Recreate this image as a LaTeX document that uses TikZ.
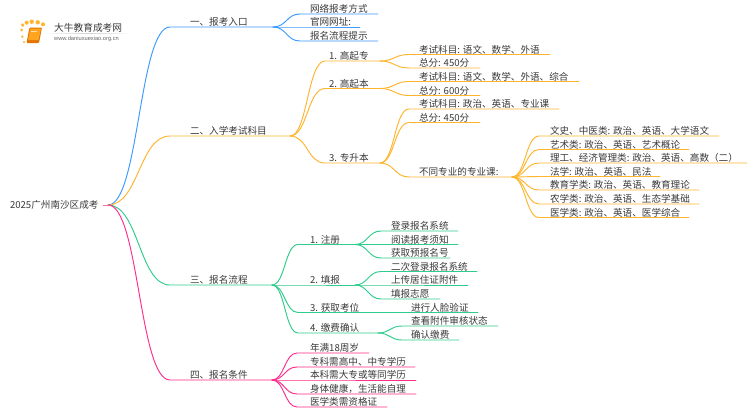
\documentclass[tikz,border=0pt]{standalone}
\usepackage{fontspec}
\setmainfont{Noto Sans CJK SC}
\newfontfamily\latinfont{Liberation Sans}
\usetikzlibrary{calc}
\definecolor{cblue}{HTML}{3D9BFF}
\definecolor{corange}{HTML}{FFB52E}
\definecolor{cgreen}{HTML}{2FCC8B}
\definecolor{cpink}{HTML}{FF2D8D}
\definecolor{ctext}{HTML}{3A3A3A}
\tikzset{
  lbl/.style={anchor=base west,inner sep=0pt,outer sep=0pt,text=ctext,font=\fontsize{9.6pt}{11pt}\selectfont},
  wire/.style={line width=0.95pt,line cap=round},
}
% \leaf{colour}{name}{parent}{kneeX}{lineY}{endX}{textX}{text}
\newcommand{\leaf}[8]{%
  \coordinate (#2-k) at (#4,#5);
  \coordinate (#2-e) at (#6,#5);
  \node[lbl] (#2) at (#7,#5-1.2) {#8};
  \draw[wire,#1] let \p1=(#3),\p2=(#2-k),\n1={0.5*(\x2-\x1)} in
    (#3) .. controls ({\x1+\n1},\y1) and ({\x2-\n1},\y2) .. (#2-k) -- (#2-e);
}
\begin{document}
\begin{tikzpicture}[x=1pt,y=-1pt]
\useasboundingbox (0,0) rectangle (750,410);
\fill[white] (0,0) rectangle (750,410);

% logo
\shade[left color=gray!5,right color=white,middle color=gray!35] (45,33) rectangle (133,33.7);
\foreach \px/\py/\pr in {22.7/25/1.8,26.7/22.7/2,31.7/21.7/2.2,37.7/22.3/2.2,43/24.3/2,21.7/30/1.5,22.3/36.7/1.3,24/42/1.2}
  \fill[corange] (\px,\py) circle (\pr);
\fill[orange!90!black,rounded corners=1pt] (29.5,27.5) -- (42,27.5) -- (39,43) -- (26.5,43) -- cycle;
\fill[corange!70!orange,rounded corners=0.8pt] (30.5,28.5) -- (41,28.5) -- (38.5,40) -- (28,40) -- cycle;
\draw[white!70!orange,line width=0.6pt] (31,31.5) -- (37,31.5);
\node[anchor=base west,inner sep=0pt,text=ctext,font=\fontsize{9.7pt}{11pt}\selectfont] (logoa) at (54,31.5) {大牛教育成考网};
\node[anchor=base west,inner sep=0pt,text=black!60,font=\fontsize{5.7pt}{7pt}\latinfont] (logob) at (54,40.5) {www.daniuxuexiao.org.cn};

% root
\node[lbl] (root) at (10,208.3) {2025广州南沙区成考};
\coordinate (o) at (108,205);

% branch 1
\leaf{cblue}{b1}{o}{170}{27}{273}{190}{一、报考入口}
\leaf{cblue}{b1a}{b1-e}{300}{14}{378}{310}{网络报考方式}
\leaf{cblue}{b1b}{b1-e}{300}{27}{360}{310}{官网网址:}
\leaf{cblue}{b1c}{b1-e}{300}{41}{378}{310}{报名流程提示}

% branch 2
\leaf{corange}{b2}{o}{170}{136}{290}{190}{二、入学考试科目}
\leaf{corange}{s1}{b2-e}{325}{61}{380}{329}{1. 高起专}
\leaf{corange}{s2}{b2-e}{325}{88.5}{380}{329}{2. 高起本}
\leaf{corange}{s3}{b2-e}{325}{163}{380}{329}{3. 专升本}
\leaf{corange}{s1a}{s1-e}{409}{54.5}{550}{419}{考试科目: 语文、数学、外语}
\leaf{corange}{s1b}{s1-e}{409}{68}{480}{419}{总分: 450分}
\leaf{corange}{s2a}{s2-e}{409}{81.5}{579}{419}{考试科目: 语文、数学、外语、综合}
\leaf{corange}{s2b}{s2-e}{409}{95.5}{480}{419}{总分: 600分}
\leaf{corange}{s3a}{s3-e}{409}{109}{559}{419}{考试科目: 政治、英语、专业课}
\leaf{corange}{s3b}{s3-e}{409}{122.5}{480}{419}{总分: 450分}
\leaf{corange}{s3c}{s3-e}{409}{177}{512}{419}{不同专业的专业课:}
\leaf{corange}{m1}{s3c-e}{539}{136}{719}{550}{文史、中医类: 政治、英语、大学语文}
\leaf{corange}{m2}{s3c-e}{539}{149.5}{689}{550}{艺术类: 政治、英语、艺术概论}
\leaf{corange}{m3}{s3c-e}{539}{163}{747}{550}{理工、经济管理类: 政治、英语、高数（二）}
\leaf{corange}{m4}{s3c-e}{539}{176.5}{660}{550}{法学: 政治、英语、民法}
\leaf{corange}{m5}{s3c-e}{539}{190}{699}{550}{教育学类: 政治、英语、教育理论}
\leaf{corange}{m6}{s3c-e}{539}{204}{699}{550}{农学类: 政治、英语、生态学基础}
\leaf{corange}{m7}{s3c-e}{539}{217.5}{689}{550}{医学类: 政治、英语、医学综合}

% branch 3
\leaf{cgreen}{b3}{o}{170}{285}{272}{190}{三、报名流程}
\leaf{cgreen}{p1}{b3-e}{298}{244.5}{355}{310}{1. 注册}
\leaf{cgreen}{p2}{b3-e}{298}{285}{355}{310}{2. 填报}
\leaf{cgreen}{p3}{b3-e}{298}{312.5}{478}{310}{3. 获取考位}
\leaf{cgreen}{p4}{b3-e}{298}{333}{378}{310}{4. 缴费确认}
\leaf{cgreen}{p1a}{p1-e}{381}{231}{458}{391}{登录报名系统}
\leaf{cgreen}{p1b}{p1-e}{381}{244.5}{458}{391}{阅读报考须知}
\leaf{cgreen}{p1c}{p1-e}{381}{258}{450}{391}{获取预报名号}
\leaf{cgreen}{p2a}{p2-e}{381}{271.5}{477}{391}{二次登录报名系统}
\leaf{cgreen}{p2b}{p2-e}{381}{285}{468}{391}{上传居住证附件}
\leaf{cgreen}{p2c}{p2-e}{381}{299}{440}{391}{填报志愿}
\node[lbl] (p3a) at (411,311.3) {进行人脸验证};
\leaf{cgreen}{p4a}{p4-e}{402}{326}{498}{411}{查看附件审核状态}
\leaf{cgreen}{p4b}{p4-e}{402}{340}{459}{411}{确认缴费}

% branch 4
\leaf{cpink}{b4}{o}{170}{380}{272}{190}{四、报名条件}
\leaf{cpink}{q1}{b4-e}{297}{353}{369}{310}{年满18周岁}
\leaf{cpink}{q2}{b4-e}{297}{367}{415}{310}{专科需高中、中专学历}
\leaf{cpink}{q3}{b4-e}{297}{380}{416}{310}{本科需大专或等同学历}
\leaf{cpink}{q4}{b4-e}{297}{394}{416}{310}{身体健康，生活能自理}
\leaf{cpink}{q5}{b4-e}{297}{407}{387}{310}{医学类需资格证}
\coordinate (r0) at (103,205);
\draw[wire,cpink!70] (r0) -- (o);
\end{tikzpicture}
\end{document}
